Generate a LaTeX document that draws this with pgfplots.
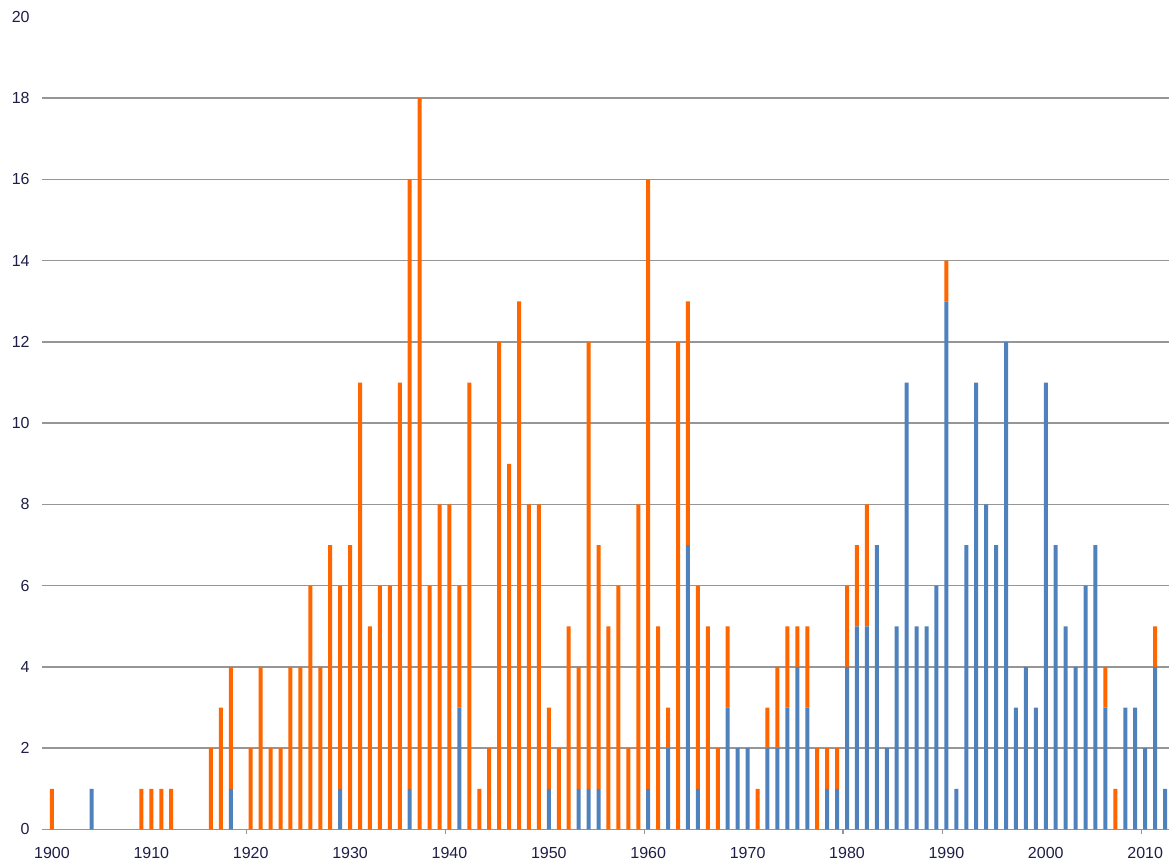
\documentclass[border=0pt]{standalone}
\usepackage{pgfplots}
\usepackage{pgfplotstable}
\pgfplotsset{compat=1.18}
\usepackage{fontspec}
\setmainfont{Liberation Sans}
\definecolor{barorange}{RGB}{255,102,0}
\definecolor{barblue}{RGB}{79,129,189}
\definecolor{gridgray}{RGB}{150,150,150}
\definecolor{labelc}{RGB}{30,30,70}

\pgfplotstableread{
year blue orange
1900 0 1
1904 1 0
1909 0 1
1910 0 1
1911 0 1
1912 0 1
1916 0 2
1917 0 3
1918 1 3
1920 0 2
1921 0 4
1922 0 2
1923 0 2
1924 0 4
1925 0 4
1926 0 6
1927 0 4
1928 0 7
1929 1 5
1930 0 7
1931 0 11
1932 0 5
1933 0 6
1934 0 6
1935 0 11
1936 1 15
1937 0 18
1938 0 6
1939 0 8
1940 0 8
1941 3 3
1942 0 11
1943 0 1
1944 0 2
1945 0 12
1946 0 9
1947 0 13
1948 0 8
1949 0 8
1950 1 2
1951 0 2
1952 0 5
1953 1 3
1954 1 11
1955 1 6
1956 0 5
1957 0 6
1958 0 2
1959 0 8
1960 1 15
1961 0 5
1962 2 1
1963 0 12
1964 7 6
1965 1 5
1966 0 5
1967 0 2
1968 3 2
1969 2 0
1970 2 0
1971 0 1
1972 2 1
1973 2 2
1974 3 2
1975 4 1
1976 3 2
1977 0 2
1978 1 1
1979 1 1
1980 4 2
1981 5 2
1982 5 3
1983 7 0
1984 2 0
1985 5 0
1986 11 0
1987 5 0
1988 5 0
1989 6 0
1990 13 1
1991 1 0
1992 7 0
1993 11 0
1994 8 0
1995 7 0
1996 12 0
1997 3 0
1998 4 0
1999 3 0
2000 11 0
2001 7 0
2002 5 0
2003 4 0
2004 6 0
2005 7 0
2006 3 1
2007 0 1
2008 3 0
2009 3 0
2010 2 0
2011 4 1
2012 1 0
}\data

\begin{document}
\begin{tikzpicture}
\useasboundingbox (-21pt,-18.85pt) rectangle (563.5pt,414.7pt);
\begin{axis}[
  at={(0,0)}, anchor=south west,
  scale only axis, width=563.5pt, height=406.2pt,
  xmin=1899, xmax=2012.4, ymin=0, ymax=20,
  ybar stacked, bar width=2pt,
  axis x line*=bottom, axis y line*=left,
  y axis line style={draw=none},
  x axis line style={gridgray, line width=0.75pt},
  ytick={0,2,...,18},
  extra y ticks={20},
  extra y tick style={grid=none},
  ymajorgrids,
  grid style={gridgray, line width=0.75pt},
  major tick length=0pt,
  xtick={1900,1910,...,2010},
  xticklabels={1900,1910,1920,1930,1940,1950,1960,1970,1980,1990,2000,2010},
  extra x ticks={1919.6,1939.6,1959.6,1979.6,1989.6,2009.6},
  extra x tick labels={},
  extra x tick style={major tick length=2.5pt, tick align=outside, tick style={gridgray, line width=0.6pt}},
  tick label style={font=\fontsize{8}{9}\selectfont, text=labelc},
  /pgf/number format/assume math mode=true,
  yticklabel style={anchor=east, inner sep=0pt, xshift=-6pt},
  xticklabel style={anchor=north, inner sep=0pt, yshift=-9pt},
  clip=true,
]
\addplot[fill=barblue, draw=none] table[x=year, y=blue] {\data};
\addplot[fill=barorange, draw=none] table[x=year, y=orange] {\data};
\end{axis}
\end{tikzpicture}
\end{document}
